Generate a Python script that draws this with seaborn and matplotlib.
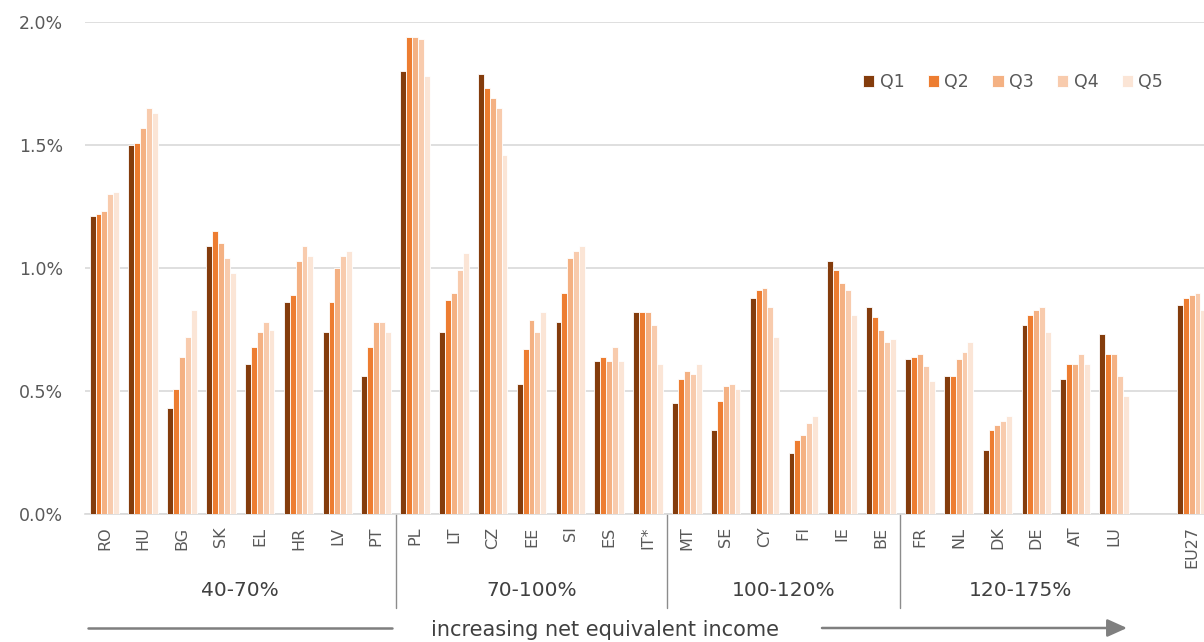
import matplotlib
matplotlib.use("Agg")
import matplotlib.pyplot as plt
import matplotlib.transforms as mtransforms
from matplotlib.ticker import MultipleLocator, FuncFormatter
import seaborn as sns
import pandas as pd

# Countries ordered by net equivalent income band; "" leaves a gap before EU27
countries = ["RO", "HU", "BG", "SK", "EL", "HR", "LV", "PT",
             "PL", "LT", "CZ", "EE", "SI", "ES", "IT*",
             "MT", "SE", "CY", "FI", "IE", "BE",
             "FR", "NL", "DK", "DE", "AT", "LU",
             "", "EU27"]
quintiles = ["Q1", "Q2", "Q3", "Q4", "Q5"]

# Share (%) per income quintile, one list per country
q1 = [1.21, 1.50, 0.43, 1.09, 0.61, 0.86, 0.74, 0.56,
      1.80, 0.74, 1.79, 0.53, 0.78, 0.62, 0.82,
      0.45, 0.34, 0.88, 0.25, 1.03, 0.84,
      0.63, 0.56, 0.26, 0.77, 0.55, 0.73,
      None, 0.85]
q2 = [1.22, 1.51, 0.51, 1.15, 0.68, 0.89, 0.86, 0.68,
      1.94, 0.87, 1.73, 0.67, 0.90, 0.64, 0.82,
      0.55, 0.46, 0.91, 0.30, 0.99, 0.80,
      0.64, 0.56, 0.34, 0.81, 0.61, 0.65,
      None, 0.88]
q3 = [1.23, 1.57, 0.64, 1.10, 0.74, 1.03, 1.00, 0.78,
      1.94, 0.90, 1.69, 0.79, 1.04, 0.62, 0.82,
      0.58, 0.52, 0.92, 0.32, 0.94, 0.75,
      0.65, 0.63, 0.36, 0.83, 0.61, 0.65,
      None, 0.89]
q4 = [1.30, 1.65, 0.72, 1.04, 0.78, 1.09, 1.05, 0.78,
      1.93, 0.99, 1.65, 0.74, 1.07, 0.68, 0.77,
      0.57, 0.53, 0.84, 0.37, 0.91, 0.70,
      0.60, 0.66, 0.38, 0.84, 0.65, 0.56,
      None, 0.90]
q5 = [1.31, 1.63, 0.83, 0.98, 0.75, 1.05, 1.07, 0.74,
      1.78, 1.06, 1.46, 0.82, 1.09, 0.62, 0.61,
      0.61, 0.51, 0.72, 0.40, 0.81, 0.71,
      0.54, 0.70, 0.40, 0.74, 0.61, 0.48,
      None, 0.83]

groups = ["40-70%", "70-100%", "100-120%", "120-175%"]
group_centers = [3.5, 11.0, 17.5, 23.6]
group_bounds = [7.5, 14.5, 20.5]

colors = ["#843C0C", "#ED7D31", "#F4B183", "#F8CBAD", "#FBE5D6"]
text_color = "#595959"
grid_color = "#D9D9D9"

rows = []
for q, vals in zip(quintiles, [q1, q2, q3, q4, q5]):
    for c, v in zip(countries, vals):
        if v is not None:
            rows.append({"country": c, "quintile": q, "value": v})
df = pd.DataFrame(rows)

sns.set_theme(style="white")
plt.rcParams["font.family"] = ["DejaVu Sans"]

fig = plt.figure(figsize=(12.04, 6.42), dpi=100)
W, H = 1204, 642
ax = fig.add_axes([85 / W, 128 / H, (1211 - 85) / W, (514 - 22) / H])

sns.barplot(data=df, x="country", y="value", hue="quintile",
            order=countries, hue_order=quintiles, palette=colors,
            width=0.76, edgecolor="white", linewidth=0.6,
            saturation=1, ax=ax, zorder=3)

ax.set_xlim(-0.5, 28.5)
ax.set_ylim(0, 2.0)
ax.yaxis.set_major_locator(MultipleLocator(0.5))
ax.yaxis.set_major_formatter(FuncFormatter(lambda v, _: f"{v:.1f}%"))
ax.grid(axis="y", color=grid_color, linewidth=1.2, zorder=0)
ax.set_axisbelow(True)
for s in ["top", "right", "left"]:
    ax.spines[s].set_visible(False)
ax.spines["bottom"].set_color(grid_color)
ax.spines["bottom"].set_linewidth(1.2)

ax.set_xlabel("")
ax.set_ylabel("")
ax.tick_params(axis="y", length=0, pad=16, labelsize=12.5, labelcolor=text_color)
ax.tick_params(axis="x", length=0, pad=9, labelsize=11.5, labelcolor=text_color)
for lab in ax.get_xticklabels():
    lab.set_rotation(90)

# Legend across the top right
ax.legend(loc="center", bbox_to_anchor=(1013 / W, 1 - 82 / H),
          bbox_transform=fig.transFigure, ncol=5, frameon=False,
          handlelength=0.65, handleheight=0.65, handletextpad=0.3,
          columnspacing=1.35, fontsize=12.5, labelcolor=text_color)

# Band separators and band labels under the axis
trans = mtransforms.blended_transform_factory(ax.transData, fig.transFigure)
for xb in group_bounds:
    ax.add_line(plt.Line2D([xb, xb], [1 - 514 / H, 1 - 608 / H], transform=trans,
                           color="#8C8C8C", linewidth=1.0, clip_on=False))
for name, xc in zip(groups, group_centers):
    ax.text(xc, 1 - 591 / H, name, transform=trans, ha="center", va="center",
            fontsize=14.5, color="#404040")

# Income direction arrow along the bottom
y_arrow = 1 - 628 / H
fig.add_artist(plt.Line2D([88 / W, 392 / W], [y_arrow, y_arrow],
                          transform=fig.transFigure, color="#7F7F7F", linewidth=1.8))
fig.text(605 / W, 1 - 630 / H, "increasing net equivalent income",
         ha="center", va="center", fontsize=15, color="#404040")
ax.annotate("", xy=(1127 / W, y_arrow), xytext=(822 / W, y_arrow),
            xycoords="figure fraction", textcoords="figure fraction",
            arrowprops=dict(arrowstyle="-|>,head_length=1.0,head_width=0.45",
                            color="#7F7F7F", linewidth=1.8,
                            shrinkA=0, shrinkB=0))

fig.savefig("out.png", dpi=100)
